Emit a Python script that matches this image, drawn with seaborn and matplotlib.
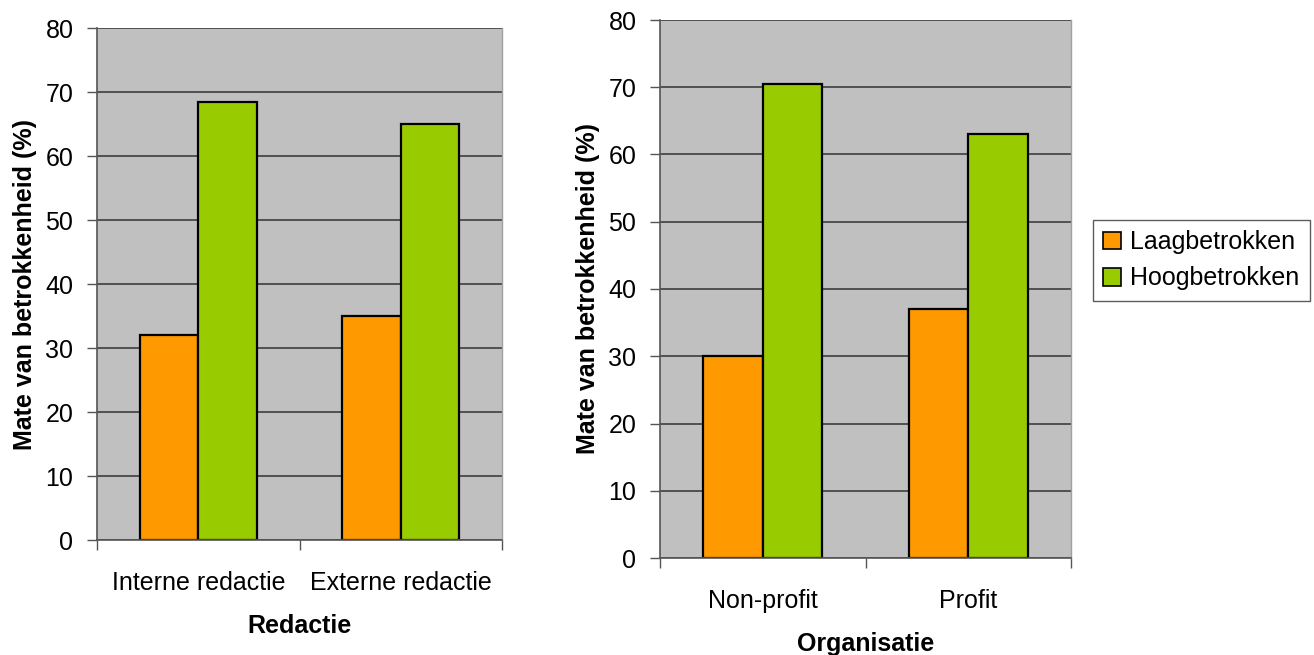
import matplotlib
matplotlib.use("Agg")
import matplotlib.pyplot as plt
import seaborn as sns
import pandas as pd
from matplotlib.patches import Patch

# Survey results: degree of involvement (%) per group
groups = ["Laagbetrokken", "Hoogbetrokken"]

redactie_cats = ["Interne redactie", "Externe redactie"]
redactie_laag = [32, 35]
redactie_hoog = [68.5, 65]

organisatie_cats = ["Non-profit", "Profit"]
organisatie_laag = [30, 37]
organisatie_hoog = [70.5, 63]

yticks = [0, 10, 20, 30, 40, 50, 60, 70, 80]

colors = ["#FF9900", "#99CC00"]
plot_bg = "#C0C0C0"


def make_frame(cats, laag, hoog):
    rows = []
    for c, v in zip(cats, laag):
        rows.append({"cat": c, "groep": groups[0], "waarde": v})
    for c, v in zip(cats, hoog):
        rows.append({"cat": c, "groep": groups[1], "waarde": v})
    return pd.DataFrame(rows)


sns.set_theme(style="white")
plt.rcParams["font.family"] = ["Liberation Sans", "DejaVu Sans"]
plt.rcParams["text.color"] = "black"
plt.rcParams["axes.labelcolor"] = "black"
plt.rcParams["xtick.labelcolor"] = "black"
plt.rcParams["ytick.labelcolor"] = "black"

fig = plt.figure(figsize=(13.14, 6.55), dpi=100)
ax1 = fig.add_axes([97 / 1314, 1 - 540 / 655, 405 / 1314, 512 / 655])
ax2 = fig.add_axes([660 / 1314, 1 - 558 / 655, 411 / 1314, 538 / 655])

panels = [
    (ax1, make_frame(redactie_cats, redactie_laag, redactie_hoog), redactie_cats, "Redactie"),
    (ax2, make_frame(organisatie_cats, organisatie_laag, organisatie_hoog), organisatie_cats, "Organisatie"),
]

for ax, df, cats, xlabel in panels:
    sns.barplot(data=df, x="cat", y="waarde", hue="groep", order=cats,
                hue_order=groups, palette=colors, width=0.58,
                edgecolor="black", linewidth=1.6, saturation=1,
                legend=False, ax=ax)
    ax.set_facecolor(plot_bg)
    ax.set_axisbelow(True)
    ax.set_xlim(-0.5, len(cats) - 0.5)
    ax.set_ylim(0, 80)
    ax.set_yticks(yticks)
    ax.set_yticklabels([str(t) for t in yticks], fontsize=18, color="black")
    ax.yaxis.grid(True, color="#333333", linewidth=1.1)
    ax.xaxis.grid(False)

    # category labels centred, tick marks on category boundaries
    ax.set_xticks(range(len(cats)))
    ax.set_xticklabels(cats, fontsize=18, color="black")
    ax.set_xticks([i - 0.5 for i in range(len(cats) + 1)], minor=True)
    ax.tick_params(axis="x", which="major", length=0, pad=22)
    ax.tick_params(axis="x", which="minor", length=7, width=1, color="#555555",
                   direction="out", bottom=True)
    ax.tick_params(axis="y", length=7, width=1, color="#555555",
                   direction="out", left=True, pad=10)

    for side in ["left", "bottom"]:
        ax.spines[side].set_color("#555555")
        ax.spines[side].set_linewidth(1.2)
    ax.spines["right"].set_color("#A0A0A0")
    ax.spines["right"].set_linewidth(1)
    ax.spines["top"].set_visible(False)

    ax.set_xlabel(xlabel, fontsize=18, fontweight="bold", labelpad=14,
                  color="black")
    ax.set_ylabel("Mate van betrokkenheid (%)", fontsize=18,
                  fontweight="bold", labelpad=6, color="black")

handles = [Patch(facecolor=c, edgecolor="black", linewidth=1.2) for c in colors]
leg = fig.legend(handles, groups, loc="upper left",
                 bbox_to_anchor=(1093 / 1314, 1 - 220 / 655),
                 fontsize=18, frameon=True, fancybox=False,
                 handlelength=0.7, handleheight=0.7, handletextpad=0.4,
                 labelspacing=0.5, borderpad=0.4, borderaxespad=0)
leg.get_frame().set_edgecolor("#333333")
leg.get_frame().set_linewidth(1)
for t in leg.get_texts():
    t.set_color("black")

fig.savefig("out.png", dpi=100)
